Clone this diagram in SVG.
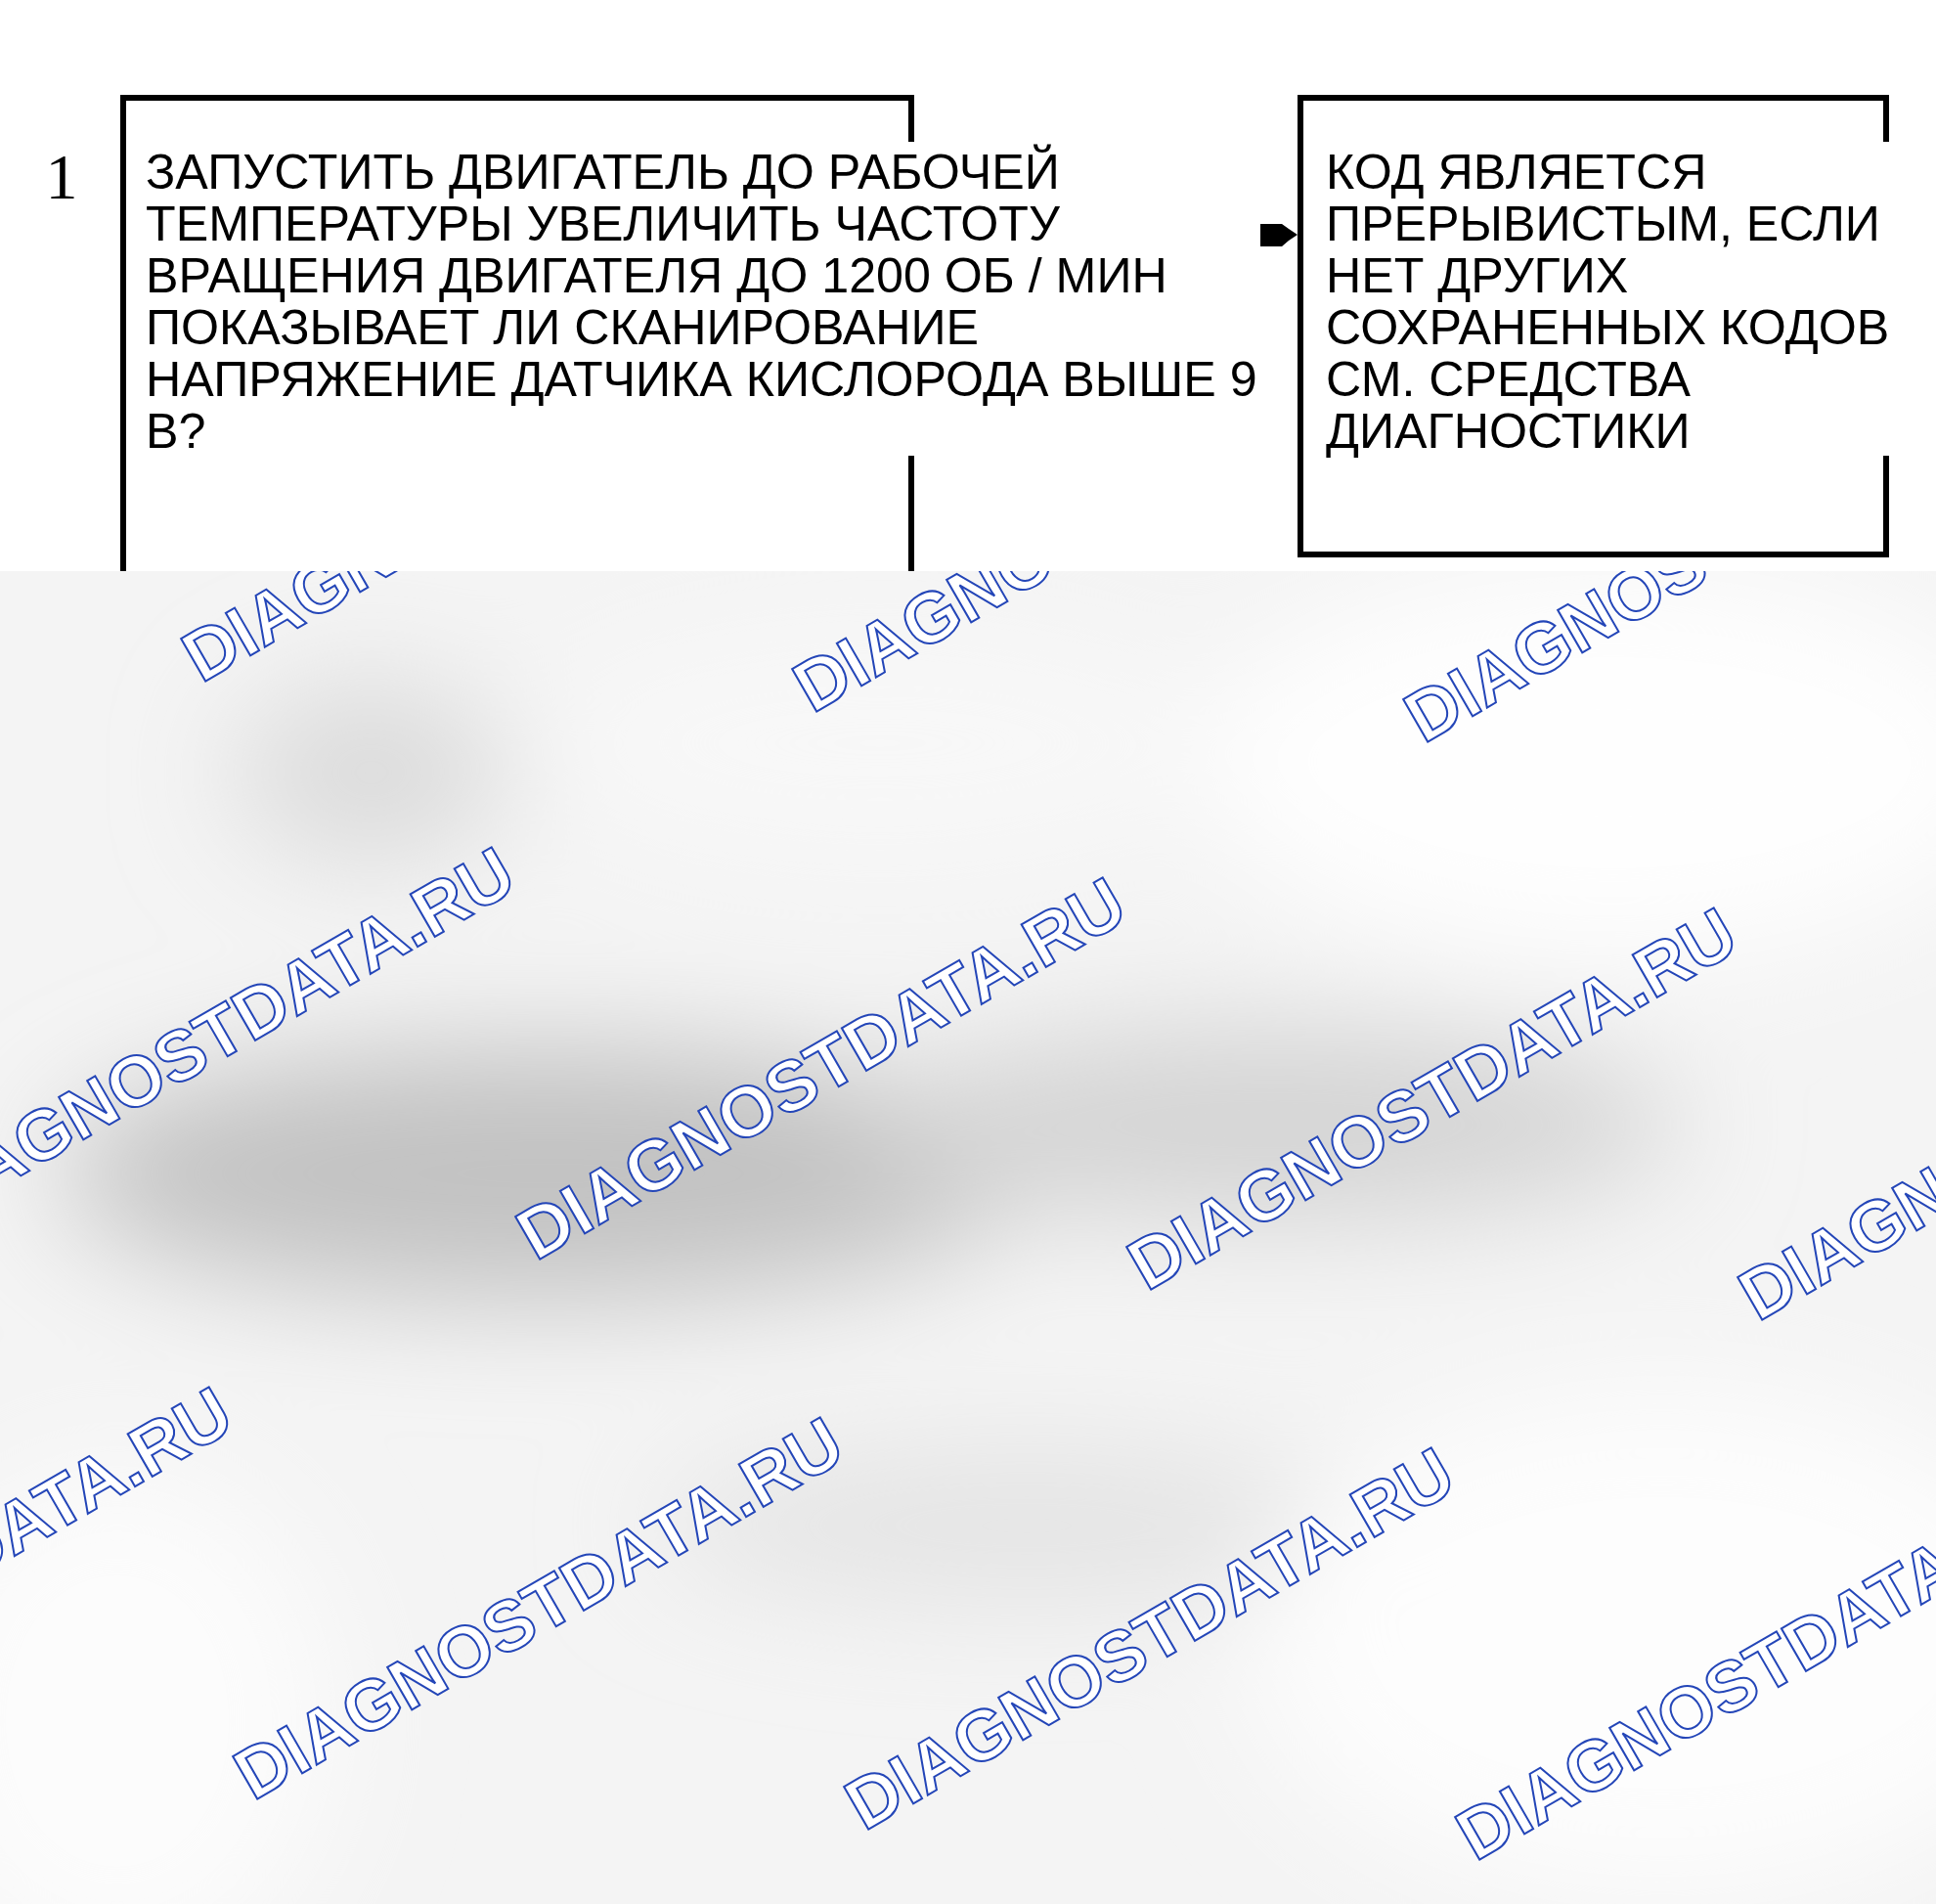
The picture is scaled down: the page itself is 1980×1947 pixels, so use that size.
<svg xmlns="http://www.w3.org/2000/svg" width="1980" height="1947" viewBox="0 0 1980 1947">
<defs>
<style>
.t{font-family:"Liberation Sans",Arial,sans-serif;font-size:50.2px;fill:#000}
.num{font-family:"Liberation Serif","Times New Roman",serif;font-size:66px;fill:#000}
.box{fill:none;stroke:#000;stroke-width:6;stroke-linejoin:miter}
.wm{font-family:"Liberation Sans",Arial,sans-serif;font-weight:bold;font-size:73px;fill:#fff;stroke:#2446b8;stroke-width:2}
</style>
<clipPath id="wmclip"><rect x="0" y="584" width="1980" height="1363"/></clipPath>
<filter id="blur" x="-50%" y="-50%" width="200%" height="200%"><feGaussianBlur stdDeviation="60"/></filter>
</defs>
<rect x="0" y="0" width="1980" height="1947" fill="#fff"/>
<g id="node-step1">
<text class="num" x="63" y="203" text-anchor="middle">1</text>
<path class="box" d="M932,145 V100 H126 V584"/>
<path class="box" d="M932,466 V584"/>
<text class="t" x="149" y="193">ЗАПУСТИТЬ ДВИГАТЕЛЬ ДО РАБОЧЕЙ</text>
<text class="t" x="149" y="246">ТЕМПЕРАТУРЫ УВЕЛИЧИТЬ ЧАСТОТУ</text>
<text class="t" x="149" y="299">ВРАЩЕНИЯ ДВИГАТЕЛЯ ДО 1200 ОБ / МИН</text>
<text class="t" x="149" y="352">ПОКАЗЫВАЕТ ЛИ СКАНИРОВАНИЕ</text>
<text class="t" x="149" y="405">НАПРЯЖЕНИЕ ДАТЧИКА КИСЛОРОДА ВЫШЕ 9</text>
<text class="t" x="149" y="458">В?</text>
</g>
<g id="node-result">
<path class="box" d="M1929,145 V100 H1330 V567 H1929 V466"/>
<text class="t" x="1356" y="193">КОД ЯВЛЯЕТСЯ</text>
<text class="t" x="1356" y="246">ПРЕРЫВИСТЫМ, ЕСЛИ</text>
<text class="t" x="1356" y="299">НЕТ ДРУГИХ</text>
<text class="t" x="1356" y="352">СОХРАНЕННЫХ КОДОВ</text>
<text class="t" x="1356" y="405">СМ. СРЕДСТВА</text>
<text class="t" x="1356" y="458">ДИАГНОСТИКИ</text>
</g>
<g id="connectors">
<polygon points="1289,229 1311,229 1318,234 1327,240 1318,246 1311,252 1289,252" fill="#000"/>
</g>
<g id="watermark" clip-path="url(#wmclip)">
<rect x="0" y="584" width="1980" height="1363" fill="#f4f4f4"/>
<g filter="url(#blur)">
<ellipse cx="560" cy="1200" rx="500" ry="130" fill="#c2c2c2"/>
<ellipse cx="1300" cy="1150" rx="420" ry="100" fill="#d4d4d4"/>
<ellipse cx="380" cy="790" rx="140" ry="90" fill="#dadada"/>
<ellipse cx="1050" cy="1560" rx="380" ry="80" fill="#e4e4e4"/>
<ellipse cx="1650" cy="780" rx="420" ry="200" fill="#fefefe"/>
<ellipse cx="1700" cy="1680" rx="420" ry="260" fill="#fdfdfd"/>
<ellipse cx="120" cy="1760" rx="220" ry="260" fill="#fcfcfc"/>
<ellipse cx="900" cy="760" rx="350" ry="120" fill="#f8f8f8"/>
</g>
<g class="wm">
<text transform="translate(206,699) rotate(-30)">DIAGNOSTDATA.RU</text>
<text transform="translate(831,730) rotate(-30)">DIAGNOSTDATA.RU</text>
<text transform="translate(1456,761) rotate(-30)">DIAGNOSTDATA.RU</text>
<text transform="translate(-77,1259) rotate(-30)">DIAGNOSTDATA.RU</text>
<text transform="translate(548,1290) rotate(-30)">DIAGNOSTDATA.RU</text>
<text transform="translate(1173,1321) rotate(-30)">DIAGNOSTDATA.RU</text>
<text transform="translate(1798,1352) rotate(-30)">DIAGNOSTDATA.RU</text>
<text transform="translate(-366,1811) rotate(-30)">DIAGNOSTDATA.RU</text>
<text transform="translate(259,1842) rotate(-30)">DIAGNOSTDATA.RU</text>
<text transform="translate(884,1873) rotate(-30)">DIAGNOSTDATA.RU</text>
<text transform="translate(1509,1904) rotate(-30)">DIAGNOSTDATA.RU</text>
</g>
</g>
</svg>
